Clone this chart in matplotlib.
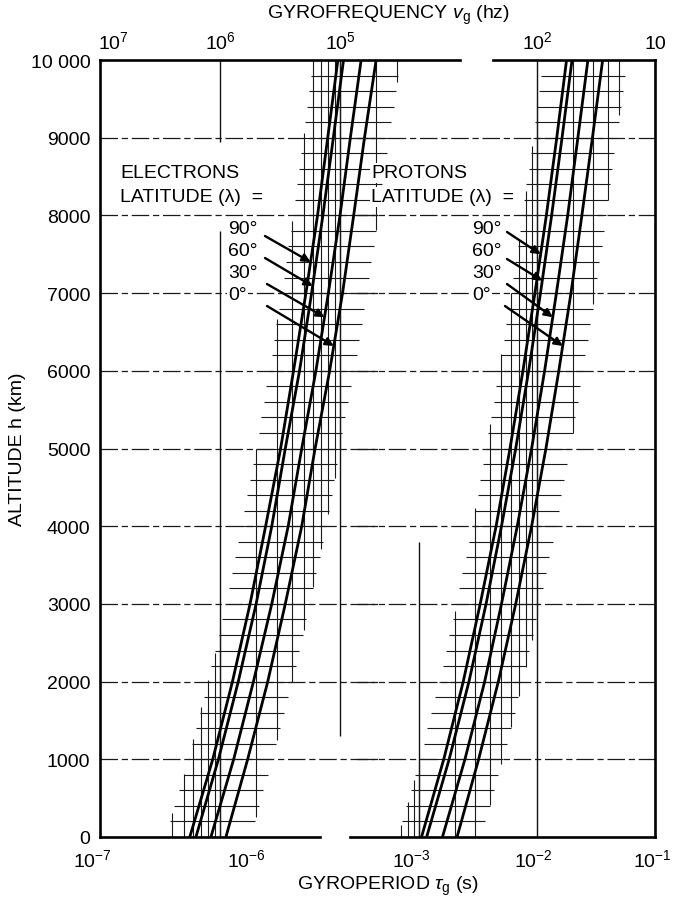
import numpy as np
import matplotlib
matplotlib.use("Agg")
import matplotlib.pyplot as plt
from matplotlib.transforms import ScaledTranslation

plt.rcParams['font.family'] = ['Liberation Sans', 'DejaVu Sans']
plt.rcParams['mathtext.fontset'] = 'custom'
plt.rcParams['mathtext.rm'] = 'Liberation Sans'
plt.rcParams['mathtext.it'] = 'Liberation Sans:italic'
plt.rcParams['mathtext.bf'] = 'Liberation Sans:bold'

# ---- data -------------------------------------------------------------
altitude_km = [0, 1000, 2000, 3000, 4000, 5000, 6000, 7000, 8000, 9000, 10000]
latitude_labels = ['90°', '60°', '30°', '0°']

# electron gyroperiod (s) versus altitude, one list per latitude
electron_90 = [5.6e-7, 8.7e-7, 1.27e-6, 1.78e-6, 2.4e-6, 3.2e-6, 4.1e-6, 5.2e-6, 6.5e-6, 7.9e-6, 9.6e-6]
electron_60 = [6.3e-7, 9.7e-7, 1.42e-6, 2.0e-6, 2.7e-6, 3.5e-6, 4.6e-6, 5.8e-6, 7.2e-6, 8.8e-6, 1.07e-5]
electron_30 = [8.4e-7, 1.3e-6, 1.9e-6, 2.7e-6, 3.7e-6, 4.8e-6, 6.3e-6, 8.0e-6, 1.0e-5, 1.22e-5, 1.5e-5]
electron_0 = [1.12e-6, 1.7e-6, 2.5e-6, 3.5e-6, 4.8e-6, 6.2e-6, 8.2e-6, 1.05e-5, 1.3e-5, 1.6e-5, 2.0e-5]

# proton gyroperiod (s) versus altitude, one list per latitude
proton_90 = [1.05e-3, 1.62e-3, 2.37e-3, 3.3e-3, 4.5e-3, 5.9e-3, 7.6e-3, 9.6e-3, 1.2e-2, 1.47e-2, 1.78e-2]
proton_60 = [1.16e-3, 1.8e-3, 2.65e-3, 3.7e-3, 5.0e-3, 6.6e-3, 8.5e-3, 1.07e-2, 1.33e-2, 1.63e-2, 1.98e-2]
proton_30 = [1.58e-3, 2.45e-3, 3.6e-3, 5.0e-3, 6.8e-3, 9.0e-3, 1.16e-2, 1.46e-2, 1.82e-2, 2.22e-2, 2.7e-2]
proton_0 = [2.1e-3, 3.2e-3, 4.7e-3, 6.6e-3, 9.0e-3, 1.19e-2, 1.53e-2, 1.94e-2, 2.4e-2, 2.95e-2, 3.6e-2]

altitude_ticks = [0, 1000, 2000, 3000, 4000, 5000, 6000, 7000, 8000, 9000, 10000]
altitude_ticklabels = ['0', '1000', '2000', '3000', '4000', '5000', '6000',
                       '7000', '8000', '9000', '10 000']
electron_period_ticks = [1e-7, 1e-6]
electron_period_ticklabels = [r'$10^{-7}$', r'$10^{-6}$']
proton_period_ticks = [1e-3, 1e-2, 1e-1]
proton_period_ticklabels = [r'$10^{-3}$', r'$10^{-2}$', r'$10^{-1}$']
electron_freq_ticks = [1e7, 1e6, 1e5]
electron_freq_ticklabels = [r'$10^{7}$', r'$10^{6}$', r'$10^{5}$']
proton_freq_ticks = [1e2, 1e1]
proton_freq_ticklabels = [r'$10^{2}$', '10']

# ---- layout -----------------------------------------------------------
W, H = 673, 903
FS = 14
fig = plt.figure(figsize=(W / 100, H / 100), dpi=100)


def box(x0, y0, x1, y1):
    return [x0 / W, 1 - y1 / H, (x1 - x0) / W, (y1 - y0) / H]


def fig_xy(x, y):
    return x / W, 1 - y / H


ax_e = fig.add_axes(box(100, 61, 460, 838))
ax_p = fig.add_axes(box(350, 61, 655, 838))
for ax in (ax_e, ax_p):
    ax.set_facecolor('none')
    ax.set_xscale('log')
    ax.set_ylim(0, 10000)
    ax.minorticks_off()
    ax.tick_params(length=0, labelsize=FS)
    for s in ax.spines.values():
        s.set_linewidth(1.9)

ax_e.set_xlim(1e-7, 1e-4)
ax_p.set_xlim(2.6e-4, 1e-1)

# broken frame: each panel keeps only part of its box
ax_e.spines['right'].set_visible(False)
ax_e.spines['bottom'].set_bounds(1e-7, 6.8e-6)
ax_e.spines['top'].set_bounds(1e-7, 1e-4)
ax_p.spines['left'].set_visible(False)
ax_p.spines['bottom'].set_bounds(2.6e-4, 1e-1)
ax_p.spines['top'].set_bounds(4.2e-3, 1e-1)

ax_e.set_yticks(altitude_ticks)
ax_e.set_yticklabels(altitude_ticklabels)
ax_e.tick_params(axis='y', pad=7)
ax_p.set_yticks([])

ax_e.set_xticks(electron_period_ticks)
ax_e.set_xticklabels(electron_period_ticklabels)
ax_p.set_xticks(proton_period_ticks)
ax_p.set_xticklabels(proton_period_ticklabels)
for ax in (ax_e, ax_p):
    ax.tick_params(axis='x', pad=8)

# frequency scale along the top
inv = (lambda x: 1.0 / x, lambda x: 1.0 / x)
sec_e = ax_e.secondary_xaxis('top', functions=inv)
sec_p = ax_p.secondary_xaxis('top', functions=inv)
for sec, ticks, labels in ((sec_e, electron_freq_ticks, electron_freq_ticklabels),
                           (sec_p, proton_freq_ticks, proton_freq_ticklabels)):
    sec.set_xticks(ticks)
    sec.set_xticklabels(labels)
    sec.minorticks_off()
    sec.tick_params(length=0, labelsize=FS, pad=6)
    sec.spines['top'].set_visible(False)


def shift_labels(labels, offsets):
    for lab, dx in zip(labels, offsets):
        lab.set_transform(lab.get_transform() + ScaledTranslation(dx / 100, 0, fig.dpi_scale_trans))


shift_labels(ax_e.get_xticklabels(), [-8, 26])
shift_labels(ax_p.get_xticklabels(), [-8, -4, -3])
shift_labels(sec_e.get_xticklabels(), [13, 0, 0])

# ---- grid -------------------------------------------------------------
grid_kw = dict(color='#1a1a1a', lw=0.9, linestyle=(0, (14, 3, 5, 3)), zorder=1)
major_alts = altitude_ticks[1:-1]
ax_e.hlines(major_alts, 1e-7, 2.2e-5, **grid_kw)
ax_p.hlines(major_alts, 3.0e-4, 1e-1, **grid_kw)

vkw = dict(color='#111111', lw=1.0, zorder=1)
ax_e.vlines(1e-6, 0, 7800, **vkw)
ax_e.vlines(1e-6, 8950, 10000, **vkw)
ax_e.vlines(1e-5, 1300, 10000, **vkw)
ax_p.vlines(1e-3, 0, 3800, **vkw)
ax_p.vlines(1e-2, 0, 10000, **vkw)


def graph_paper(ax, curves, decades, spread=1.6):
    """Fine 200 km / minor-decade grid shown only in a band around the curves."""
    alts = np.asarray(altitude_km, float)
    logs = np.log10(np.asarray(curves))
    lo = logs.min(axis=0) - np.log10(spread)
    hi = logs.max(axis=0) + np.log10(spread)
    fine = np.arange(0, 10001, 200)
    lo_f = 10 ** np.interp(fine, alts, lo)
    hi_f = 10 ** np.interp(fine, alts, hi)
    ax.hlines(fine, lo_f, hi_f, color='#1a1a1a', lw=0.8, zorder=1)
    for d in decades:
        for m in range(1, 10):
            x = m * 10.0 ** d
            lx = np.log10(x)
            h_top = np.interp(lx, lo, alts)
            h_bot = np.interp(lx, hi, alts)
            if h_top > h_bot + 1:
                ax.vlines(x, h_bot, h_top, color='#1a1a1a', lw=0.8, zorder=1)


graph_paper(ax_e, [electron_90, electron_60, electron_30, electron_0], range(-7, -4))
graph_paper(ax_p, [proton_90, proton_60, proton_30, proton_0], range(-4, -1))

# ---- curves -----------------------------------------------------------
for series in (electron_90, electron_60, electron_30, electron_0):
    ax_e.plot(series, altitude_km, color='black', lw=2.0, zorder=3, solid_capstyle='butt')
for series in (proton_90, proton_60, proton_30, proton_0):
    ax_p.plot(series, altitude_km, color='black', lw=2.0, zorder=3, solid_capstyle='butt')

# ---- annotations ------------------------------------------------------
tbox = dict(facecolor='white', edgecolor='none', pad=1.0)


def label_block(ax, x_left, title, arrow_starts, tip_alts, curves):
    ax.text(*fig_xy(x_left, 174), title, transform=fig.transFigure, fontsize=FS,
            ha='left', va='center', bbox=tbox, zorder=4)
    ax.text(*fig_xy(x_left, 198), 'LATITUDE (λ)  =', transform=fig.transFigure,
            fontsize=FS, ha='left', va='center', bbox=tbox, zorder=4)
    return None


def latitude_labels_and_arrows(ax, x_text, label_ys, arrow_starts, tip_alts, curves):
    for lab, ly, (sx, sy), h_tip, curve in zip(latitude_labels, label_ys, arrow_starts,
                                               tip_alts, curves):
        ax.text(*fig_xy(x_text, ly), lab, transform=fig.transFigure, fontsize=FS,
                ha='left', va='center', bbox=tbox, zorder=4)
        tip_x = 10 ** np.interp(h_tip, altitude_km, np.log10(curve))
        ax.annotate('', xy=(tip_x, h_tip), xycoords='data',
                    xytext=(sx, H - sy), textcoords='figure pixels',
                    arrowprops=dict(arrowstyle='-|>', lw=1.7, color='black',
                                    mutation_scale=12, shrinkA=0, shrinkB=0),
                    zorder=5)


label_block(ax_e, 120, 'ELECTRONS', None, None, None)
label_block(ax_p, 371, 'PROTONS', None, None, None)

label_ys = [229, 251, 273, 295]
latitude_labels_and_arrows(ax_e, 228, label_ys,
                           [(265, 237), (265, 259), (267, 285), (267, 307)],
                           [7400, 7090, 6690, 6320],
                           [electron_90, electron_60, electron_30, electron_0])
latitude_labels_and_arrows(ax_p, 472, label_ys,
                           [(507, 233), (507, 260), (507, 285), (505, 307)],
                           [7500, 7160, 6690, 6320],
                           [proton_90, proton_60, proton_30, proton_0])

# ---- axis titles ------------------------------------------------------
fig.text(*fig_xy(388, 15), r'GYROFREQUENCY $v_{\rm g}$ (hz)', fontsize=FS,
         ha='center', va='center')
fig.text(*fig_xy(388, 886), r'GYROPERIOD $\tau_{\rm g}$ (s)', fontsize=FS,
         ha='center', va='center')
fig.text(*fig_xy(18, 449), 'ALTITUDE h (km)', fontsize=FS, rotation=90,
         ha='center', va='center')

fig.savefig('out.png', dpi=100)
